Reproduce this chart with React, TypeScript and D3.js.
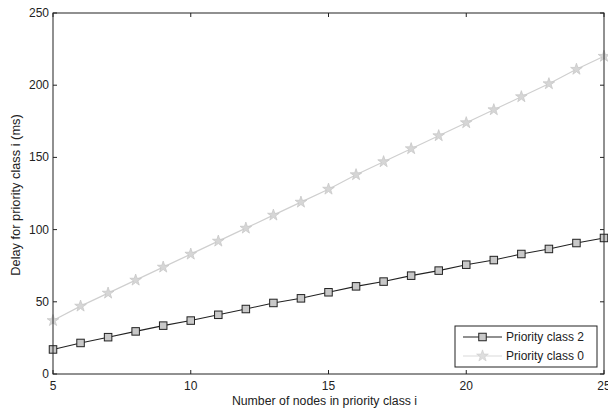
import React from 'react';
import * as d3 from 'd3';

const nodes = [5, 6, 7, 8, 9, 10, 11, 12, 13, 14, 15, 16, 17, 18, 19, 20, 21, 22, 23, 24, 25];
const class2Delay = [17, 21.5, 25.5, 29.5, 33.5, 37, 41, 45, 49.2, 52.4, 56.6, 60.7, 64, 68.1, 71.6, 75.7, 78.9, 83.1, 86.6, 90.7, 94.2];
const class0Delay = [37, 47, 56, 65, 74, 83, 92, 101, 110, 119, 128, 138, 147, 156, 165, 174, 183, 192, 201, 211, 220];
const xTicks = [5, 10, 15, 20, 25];
const yTicks = [0, 50, 100, 150, 200, 250];
const seriesNames = ['Priority class 2', 'Priority class 0'];

const W = 608, H = 408;
const m = {left: 53, right: 4, top: 13, bottom: 34};
const FONT = 'Liberation Sans, Arial, sans-serif';

export default function App() {
  const x = d3.scaleLinear().domain([5, 25]).range([m.left, W - m.right]);
  const y = d3.scaleLinear().domain([0, 250]).range([H - m.bottom, m.top]);

  const line = d3.line<number>()
    .x((d, i) => x(nodes[i]))
    .y((d) => y(d));

  const star = d3.symbol().type(d3.symbolStar).size(42)();
  const sq = 7.5;

  const x0 = x.range()[0], x1 = x.range()[1];
  const y0 = y.range()[0], y1 = y.range()[1];
  const tl = 4;

  return (
    <svg width={W} height={H} style={{position: 'absolute', left: 0, top: 0, background: '#fff'}}
      fontFamily={FONT}>
      <rect x={0} y={0} width={W} height={H} fill="#fff" />

      {/* series */}
      <path d={line(class0Delay) || ''} fill="none" stroke="#cfcfcf" strokeWidth={1.2} />
      {class0Delay.map((v, i) => (
        <path key={'s' + i} d={star} transform={`translate(${x(nodes[i])},${y(v)})`}
          fill="#d6d6d6" stroke="#c8c8c8" strokeWidth={0.8} />
      ))}
      <path d={line(class2Delay) || ''} fill="none" stroke="#222" strokeWidth={1.1} />
      {class2Delay.map((v, i) => (
        <rect key={'q' + i} x={x(nodes[i]) - sq / 2} y={y(v) - sq / 2} width={sq} height={sq}
          fill="#c8c8c8" stroke="#222" strokeWidth={1} />
      ))}

      {/* axes box */}
      <rect x={x0} y={y1} width={x1 - x0} height={y0 - y1} fill="none" stroke="#222" strokeWidth={1} />
      {xTicks.map((t) => (
        <g key={'x' + t}>
          <line x1={x(t)} x2={x(t)} y1={y0} y2={y0 - tl} stroke="#222" />
          <line x1={x(t)} x2={x(t)} y1={y1} y2={y1 + tl} stroke="#222" />
          <text x={x(t)} y={y0 + 16} textAnchor="middle" fontSize={12} fill="#222">{t}</text>
        </g>
      ))}
      {yTicks.map((t) => (
        <g key={'y' + t}>
          <line x1={x0} x2={x0 + tl} y1={y(t)} y2={y(t)} stroke="#222" />
          <line x1={x1} x2={x1 - tl} y1={y(t)} y2={y(t)} stroke="#222" />
          <text x={x0 - 4} y={y(t) + 4} textAnchor="end" fontSize={12} fill="#222">{t}</text>
        </g>
      ))}

      <text x={(x0 + x1) / 2 - 4} y={H - 3} textAnchor="middle" fontSize={12.3} fill="#222">
        Number of nodes in priority class i
      </text>
      <text transform={`translate(20,195) rotate(-90)`} textAnchor="middle" fontSize={12.8} fill="#222">
        Delay for priority class i (ms)
      </text>

      {/* legend */}
      <g transform="translate(455,326)">
        <rect x={0} y={0} width={142} height={41} fill="#fff" stroke="#222" strokeWidth={1} />
        <line x1={8} x2={47} y1={11} y2={11} stroke="#222" strokeWidth={1.1} />
        <rect x={27.5 - sq / 2} y={11 - sq / 2} width={sq} height={sq} fill="#c8c8c8" stroke="#222" />
        <text x={51} y={15} fontSize={12} fill="#222">{seriesNames[0]}</text>
        <line x1={8} x2={47} y1={30} y2={30} stroke="#dadada" strokeWidth={1.2} />
        <path d={star} transform="translate(27.5,30)" fill="#dedede" stroke="#d2d2d2" strokeWidth={0.8} />
        <text x={51} y={34} fontSize={12} fill="#222">{seriesNames[1]}</text>
      </g>
    </svg>
  );
}
